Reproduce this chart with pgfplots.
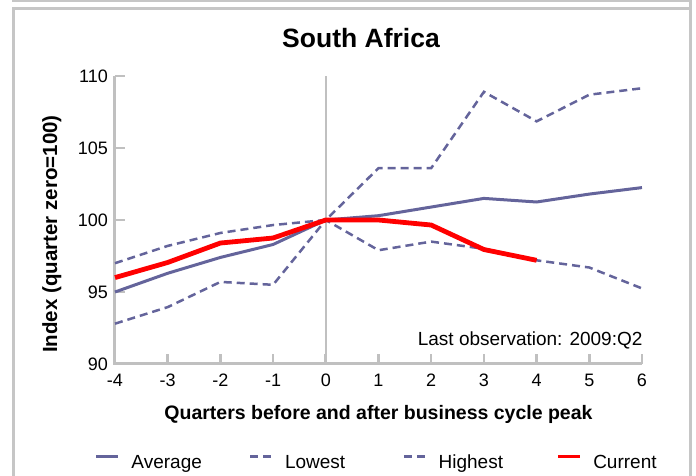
\documentclass[border=0pt]{standalone}
\usepackage{pgfplots}
\pgfplotsset{compat=1.18}
\usepackage{fontspec}
\setmainfont{Liberation Sans}

\definecolor{framegray}{RGB}{198,198,198}
\definecolor{axgray}{RGB}{192,192,192}
\definecolor{slate}{RGB}{100,100,155}
\definecolor{curred}{RGB}{255,0,0}

\begin{document}
\begin{tikzpicture}[x=1pt,y=1pt]
\useasboundingbox (0,0) rectangle (696,476);

% panel frame
\draw[framegray, line width=2.6pt] (12,474.8) -- (690.5,474.8) -- (690.5,0);
\draw[framegray, line width=3pt] (13.5,0) -- (13.5,467.5) -- (690,467.5);

% title
\node[anchor=base, font=\fontsize{26.5}{30}\selectfont\bfseries] at (361,428.5) {South Africa};

\begin{axis}[
  at={(115pt,112pt)}, anchor=south west,
  scale only axis, width=527pt, height=288pt,
  xmin=-4, xmax=6, ymin=90, ymax=110,
  clip=false,
  axis x line=bottom, axis y line=left,
  axis line style={draw=none},
  xtick={-4,-3,-2,-1,0,1,2,3,4,5,6},
  xticklabels={-4,-3,-2,-1,0,1,2,3,4,5,6},
  ytick={90,95,100,105,110},
  yticklabels={90,95,100,105,110},
  tick align=inside,
  major tick length=10pt,
  major tick style={draw=axgray, line width=2.6pt},
  /pgf/number format/assume math mode=true,
  tick label style={font=\fontsize{18}{20}\selectfont},
  xticklabel style={inner sep=0pt, anchor=north, yshift=-10pt},
  yticklabel style={inner sep=0pt, anchor=east, xshift=-7pt},
  every axis x label/.style={at={(axis description cs:0.5,0)}, anchor=base, yshift=-56pt,
    font=\fontsize{19.5}{22}\selectfont\bfseries},
  every axis y label/.style={at={(axis description cs:-0.120,0.451)}, rotate=90, anchor=center,
    font=\fontsize{20.5}{23}\selectfont\bfseries},
  xlabel={Quarters before and after business cycle peak},
  ylabel={Index (quarter zero=100)},
  legend columns=4,
  legend cell align=left,
  legend style={at={(axis description cs:-0.038,-0.342)}, anchor=west,
    draw=none, fill=none, inner sep=0pt, outer sep=0pt,
    nodes={inner sep=0pt},
    font=\fontsize{19}{22}\selectfont,
    /tikz/every even column/.append style={column sep=18.6pt},
    /tikz/every odd column/.append style={column sep=11.5pt}},
  legend image code/.code={\draw[#1] (0pt,6.5pt) -- (22pt,6.5pt);},
]

% axis lines and the quarter-zero reference line
\draw[axgray, line width=3pt] (axis cs:-4,110) -- (axis cs:-4,90) -- (axis cs:6,90);
\draw[axgray, line width=2.2pt] (axis cs:0,90) -- (axis cs:0,110);

% average path
\addplot[slate, line width=3pt] coordinates {
  (-4,95.0) (-3,96.3) (-2,97.4) (-1,98.3) (0,100) (1,100.3)
  (2,100.9) (3,101.5) (4,101.25) (5,101.8) (6,102.25)};
\addlegendentry{\makebox[99pt][l]{Average}}

% lowest path
\addplot[slate, line width=2.5pt, dash pattern=on 8pt off 5pt] coordinates {
  (-4,92.8) (-3,93.95) (-2,95.7) (-1,95.5) (0,100) (1,97.9)
  (2,98.5) (3,98.0) (4,97.2) (5,96.7) (6,95.25)};
\addlegendentry{\makebox[99pt][l]{Lowest}}

% highest path
\addplot[slate, line width=2.5pt, dash pattern=on 8pt off 5pt] coordinates {
  (-4,97.0) (-3,98.2) (-2,99.1) (-1,99.65) (0,100) (1,103.6)
  (2,103.6) (3,108.9) (4,106.85) (5,108.7) (6,109.15)};
\addlegendentry{\makebox[99pt][l]{Highest}}

% current cycle
\addplot[curred, line width=4.8pt,
  legend image code/.code={\draw[curred, line width=3.5pt] (0pt,6.5pt) -- (22pt,6.5pt);}]
  coordinates {
  (-4,96.0) (-3,97.05) (-2,98.4) (-1,98.75) (0,100) (1,100.0)
  (2,99.65) (3,97.95) (4,97.2)};
\addlegendentry{Current}

\end{axis}

\node[anchor=base east, font=\fontsize{19}{22}\selectfont] at (646,130) {Last observation: 2009:Q2};
\end{tikzpicture}
\end{document}
